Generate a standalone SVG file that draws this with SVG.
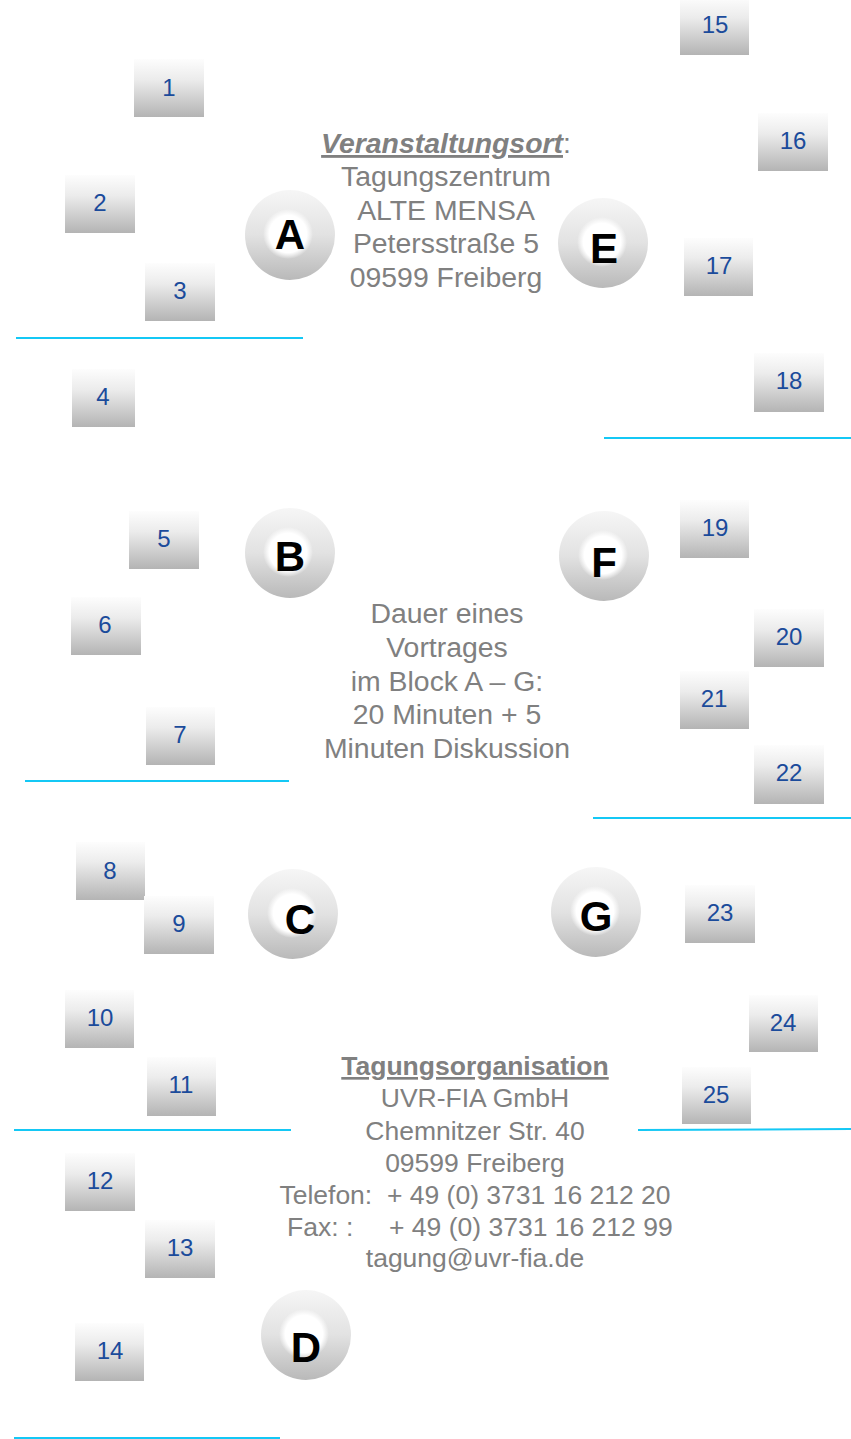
<svg xmlns="http://www.w3.org/2000/svg" width="851" height="1439" viewBox="0 0 851 1439">
<defs>
<linearGradient id="boxg" x1="0" y1="0" x2="0" y2="1">
<stop offset="0" stop-color="#fdfdfd"/>
<stop offset="0.35" stop-color="#ececec"/>
<stop offset="1" stop-color="#b4b4b4"/>
</linearGradient>
<linearGradient id="ballg" x1="0" y1="0" x2="0" y2="1">
<stop offset="0" stop-color="#f6f6f6"/>
<stop offset="0.5" stop-color="#e2e2e2"/>
<stop offset="1" stop-color="#b9b9b9"/>
</linearGradient>
<radialGradient id="hl" cx="0.5" cy="0.5" r="0.5">
<stop offset="0" stop-color="#ffffff"/>
<stop offset="0.75" stop-color="#ffffff"/>
<stop offset="1" stop-color="#ffffff" stop-opacity="0"/>
</radialGradient>
</defs>
<style>
.box{fill:url(#boxg)}
.num{font-family:"Liberation Sans",Arial,sans-serif;font-size:24px;fill:#1b4b9b;text-anchor:middle}
.ball{fill:url(#ballg)}
.hl{fill:url(#hl)}
.let{font-family:"Liberation Sans",Arial,sans-serif;font-size:42px;font-weight:bold;fill:#000;text-anchor:middle}
.sep{stroke:#14c8f5;stroke-width:2;fill:none}
.info{font-family:"Liberation Sans",Arial,sans-serif;font-size:26.5px;fill:#808080;text-anchor:middle}
.big{font-size:28.4px}
.hd{font-weight:bold;text-decoration:underline}
</style>

<g id="lines">
<line class="sep" x1="16" y1="338" x2="303" y2="338"/>
<line class="sep" x1="604" y1="438" x2="851" y2="438"/>
<line class="sep" x1="25" y1="781" x2="289" y2="781"/>
<line class="sep" x1="593" y1="818" x2="851" y2="818"/>
<line class="sep" x1="14" y1="1130" x2="291" y2="1130"/>
<line class="sep" x1="638" y1="1130" x2="851" y2="1129"/>
<line class="sep" x1="14" y1="1438" x2="280" y2="1438" stroke="#4fd8ff"/>
</g>

<g id="box1"><rect class="box" x="134" y="59" width="70" height="58"/><text class="num" x="169" y="96">1</text></g>
<g id="box2"><rect class="box" x="65" y="175" width="70" height="58"/><text class="num" x="100" y="211">2</text></g>
<g id="box3"><rect class="box" x="145" y="263" width="70" height="58"/><text class="num" x="180" y="299">3</text></g>
<g id="box4"><rect class="box" x="72" y="369" width="63" height="58"/><text class="num" x="103" y="405">4</text></g>
<g id="box5"><rect class="box" x="129" y="511" width="70" height="58"/><text class="num" x="164" y="547">5</text></g>
<g id="box6"><rect class="box" x="71" y="597" width="70" height="58"/><text class="num" x="105" y="633">6</text></g>
<g id="box7"><rect class="box" x="146" y="707" width="69" height="58"/><text class="num" x="180" y="743">7</text></g>
<g id="box8"><rect class="box" x="76" y="842" width="69" height="58"/><text class="num" x="110" y="879">8</text></g>
<g id="box9"><rect class="box" x="144" y="896" width="70" height="58"/><text class="num" x="179" y="932">9</text></g>
<g id="box10"><rect class="box" x="65" y="990" width="69" height="58"/><text class="num" x="100" y="1026">10</text></g>
<g id="box11"><rect class="box" x="147" y="1057" width="69" height="59"/><text class="num" x="181" y="1093">11</text></g>
<g id="box12"><rect class="box" x="65" y="1153" width="70" height="58"/><text class="num" x="100" y="1189">12</text></g>
<g id="box13"><rect class="box" x="145" y="1220" width="70" height="58"/><text class="num" x="180" y="1256">13</text></g>
<g id="box14"><rect class="box" x="75" y="1323" width="69" height="58"/><text class="num" x="110" y="1359">14</text></g>
<g id="box15"><rect class="box" x="680" y="-3" width="69" height="58"/><text class="num" x="715" y="33">15</text></g>
<g id="box16"><rect class="box" x="758" y="113" width="70" height="58"/><text class="num" x="793" y="149">16</text></g>
<g id="box17"><rect class="box" x="684" y="238" width="69" height="58"/><text class="num" x="719" y="274">17</text></g>
<g id="box18"><rect class="box" x="754" y="353" width="70" height="59"/><text class="num" x="789" y="389">18</text></g>
<g id="box19"><rect class="box" x="680" y="500" width="69" height="58"/><text class="num" x="715" y="536">19</text></g>
<g id="box20"><rect class="box" x="754" y="609" width="70" height="58"/><text class="num" x="789" y="645">20</text></g>
<g id="box21"><rect class="box" x="680" y="671" width="69" height="58"/><text class="num" x="714" y="707">21</text></g>
<g id="box22"><rect class="box" x="754" y="745" width="70" height="59"/><text class="num" x="789" y="781">22</text></g>
<g id="box23"><rect class="box" x="685" y="885" width="70" height="58"/><text class="num" x="720" y="921">23</text></g>
<g id="box24"><rect class="box" x="749" y="995" width="69" height="57"/><text class="num" x="783" y="1031">24</text></g>
<g id="box25"><rect class="box" x="682" y="1067" width="69" height="57"/><text class="num" x="716" y="1103">25</text></g>

<g id="blockA"><circle class="ball" cx="290" cy="235" r="45"/><circle class="hl" cx="288" cy="234" r="25"/><text class="let" x="290" y="249">A</text></g>
<g id="blockB"><circle class="ball" cx="290" cy="553" r="45"/><circle class="hl" cx="288" cy="552" r="25"/><text class="let" x="290" y="571">B</text></g>
<g id="blockC"><circle class="ball" cx="293" cy="914" r="45"/><circle class="hl" cx="292" cy="913" r="25"/><text class="let" x="300" y="934">C</text></g>
<g id="blockD"><circle class="ball" cx="306" cy="1335" r="45"/><circle class="hl" cx="304" cy="1334" r="25"/><text class="let" x="306" y="1362">D</text></g>
<g id="blockE"><circle class="ball" cx="603" cy="243" r="45"/><circle class="hl" cx="602" cy="242" r="25"/><text class="let" x="604" y="263">E</text></g>
<g id="blockF"><circle class="ball" cx="604" cy="556" r="45"/><circle class="hl" cx="603" cy="555" r="25"/><text class="let" x="604" y="577">F</text></g>
<g id="blockG"><circle class="ball" cx="596" cy="912" r="45"/><circle class="hl" cx="595" cy="911" r="25"/><text class="let" x="596" y="931">G</text></g>

<g id="venue">
<text class="info big" x="446" y="153"><tspan class="hd" font-style="italic">Veranstaltungsort</tspan>:</text>
<text class="info big" x="446" y="186">Tagungszentrum</text>
<text class="info big" x="446" y="220">ALTE MENSA</text>
<text class="info big" x="446" y="253">Petersstraße 5</text>
<text class="info big" x="446" y="287">09599 Freiberg</text>
</g>

<g id="duration">
<text class="info big" x="447" y="623">Dauer eines</text>
<text class="info big" x="447" y="657">Vortrages</text>
<text class="info big" x="447" y="691">im Block A – G:</text>
<text class="info big" x="447" y="724">20 Minuten + 5</text>
<text class="info big" x="447" y="758">Minuten Diskussion</text>
</g>

<g id="organisation">
<text class="info hd" x="475" y="1075">Tagungsorganisation</text>
<text class="info" x="475" y="1107">UVR-FIA GmbH</text>
<text class="info" x="475" y="1140">Chemnitzer Str. 40</text>
<text class="info" x="475" y="1172">09599 Freiberg</text>
<text class="info" x="475" y="1204" xml:space="preserve">Telefon:  + 49 (0) 3731 16 212 20</text>
<text class="info" x="287" y="1236" style="text-anchor:start">Fax: :</text>
<text class="info" x="389" y="1236" style="text-anchor:start">+ 49 (0) 3731 16 212 99</text>
<text class="info" x="475" y="1267">tagung@uvr-fia.de</text>
</g>
</svg>
